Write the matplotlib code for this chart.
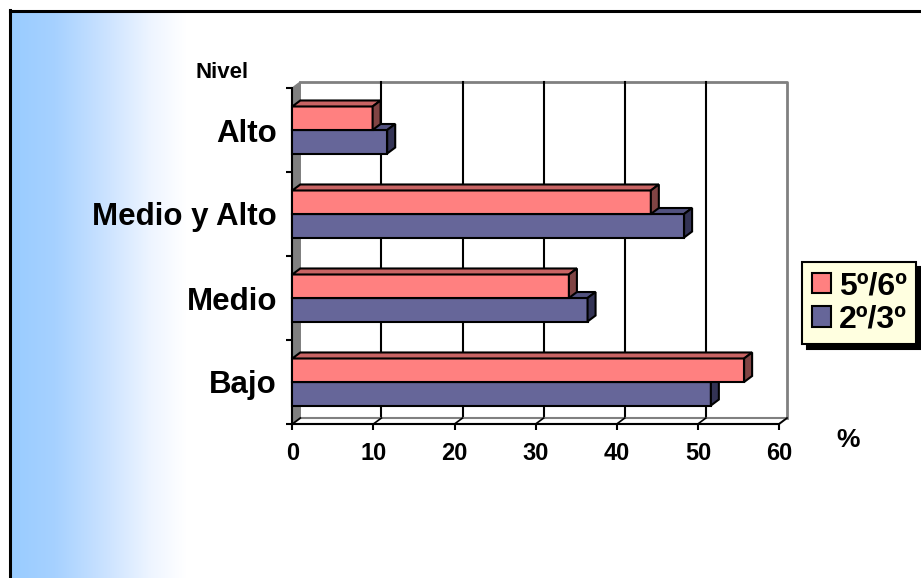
import numpy as np
import matplotlib
matplotlib.use("Agg")
from matplotlib import pyplot as plt
from matplotlib.patches import Polygon, Patch, Rectangle
from matplotlib.colors import LinearSegmentedColormap

# Data
niveles = ["Bajo", "Medio", "Medio y Alto", "Alto"]
grupos = ["5º/6º", "2º/3º"]
pct_5_6 = [55.7, 34.1, 44.2, 9.9]
pct_2_3 = [51.6, 36.4, 48.3, 11.7]
x_ticks = [0, 10, 20, 30, 40, 50, 60]

plt.rcParams["font.family"] = ["Liberation Sans", "DejaVu Sans"]
plt.rcParams["font.weight"] = "bold"

W, H = 921, 578
fig = plt.figure(figsize=(W / 100, H / 100), dpi=100)

# Background: light blue fade on the left and a black frame
bg = fig.add_axes([0, 0, 1, 1], zorder=-10)
bg.set_xlim(0, W)
bg.set_ylim(H, 0)
bg.axis("off")
fade = LinearSegmentedColormap.from_list(
    "fade", [(0, "#99CCFF"), (0.25, "#A6D1FF"), (0.55, "#CCE3FF"),
             (0.8, "#EEF5FF"), (1, "#FFFFFF")])
bg.imshow(np.linspace(0, 1, 256)[None, :], cmap=fade, extent=(11, 185, H, 11), aspect="auto")
bg.plot([10, 10], [H, 10], color="black", lw=2.2)
bg.plot([10, W], [11, 11], color="black", lw=2.2)

# Front plane of the 3D chart
ax_l, ax_b, ax_w, ax_h = 292.3, 424, 486.7, 336
ax = fig.add_axes([ax_l / W, 1 - ax_b / H, ax_w / W, ax_h / H])
ax.set_xlim(0, 60)
ax.set_ylim(-0.5, 3.5)
ax.patch.set_visible(False)

# depth offset (8 px right, 6 px up) in data units
DX = 8 * 60 / ax_w
DY = 6 * 4 / ax_h
y0, y1 = -0.5, 3.5
gray = "#808080"

# back wall, gridlines, side wall and floor
ax.add_patch(Rectangle((DX, y0 + DY), 60, 4, fc="white", ec="none", zorder=0.5, clip_on=False))
ax.plot([DX, 60 + DX, 60 + DX], [y1 + DY, y1 + DY, y0 + DY], color=gray, lw=2, zorder=1, clip_on=False)
for v in x_ticks[1:-1]:
    ax.plot([v + DX, v + DX], [y0 + DY, y1 + DY], color="black", lw=1.5, zorder=1, clip_on=False)
ax.add_patch(Polygon([(0, y0), (DX, y0 + DY), (DX, y1 + DY), (0, y1)],
                     fc=gray, ec=gray, lw=1, zorder=1.2, clip_on=False))
ax.add_patch(Polygon([(0, y0), (60, y0), (60 + DX, y0 + DY), (DX, y0 + DY)],
                     fc="white", ec=gray, lw=1.5, zorder=1.2, clip_on=False))
for v in x_ticks:
    ax.plot([v, v + DX], [y0, y0 + DY], color="black", lw=1.2, zorder=1.3, clip_on=False)

# 3D bars: front face from barh, then top and side faces
bh = 0.28
pos = np.arange(len(niveles))
series = [
    (pct_2_3, pos - bh, "#666699", "#52527F", "#333355", 3),
    (pct_5_6, pos, "#FF8080", "#C86464", "#804444", 4),
]
for vals, base, front, top, side, z in series:
    ax.barh(base, vals, height=bh, align="edge", color=front,
            edgecolor="black", linewidth=1.5, zorder=z, clip_on=False)
    for v, b in zip(vals, base):
        ax.add_patch(Polygon([(0, b + bh), (v, b + bh), (v + DX, b + bh + DY), (DX, b + bh + DY)],
                             fc=top, ec="black", lw=1.5, zorder=z, clip_on=False))
        ax.add_patch(Polygon([(v, b), (v + DX, b + DY), (v + DX, b + bh + DY), (v, b + bh)],
                             fc=side, ec="black", lw=1.5, zorder=z, clip_on=False))

# axes lines and ticks
for s in ["top", "right"]:
    ax.spines[s].set_visible(False)
for s in ["left", "bottom"]:
    ax.spines[s].set_linewidth(1.5)
ax.set_xticks(x_ticks)
ax.tick_params(axis="x", direction="out", length=4.3, width=1.5, labelsize=17, pad=9)
ax.set_yticks([-0.5, 0.5, 1.5, 2.5, 3.5])
ax.set_yticks(pos, labels=niveles, minor=True)
ax.tick_params(axis="y", which="major", direction="out", length=4.3, width=1.5, labelleft=False)
ax.tick_params(axis="y", which="minor", length=0, pad=11, labelsize=22.5)

fig.text(222 / W, 1 - 72 / H, "Nivel", ha="center", va="center", fontsize=16, fontweight="bold")
fig.text(848 / W, 1 - 440 / H, "%", ha="center", va="center", fontsize=19, fontweight="bold")

handles = [Patch(fc="#FF8080", ec="black", lw=1.5), Patch(fc="#666699", ec="black", lw=1.5)]
leg = fig.legend(handles, grupos, loc="upper left", bbox_to_anchor=(802 / W, 1 - 262 / H),
                 frameon=True, fancybox=False,
                 shadow={"ox": 3.6, "oy": -3.6, "color": "black", "alpha": 1},
                 edgecolor="black", facecolor="#FFFFE0", framealpha=1,
                 prop={"size": 23, "weight": "bold"}, handlelength=0.6, handleheight=0.6,
                 handletextpad=0.25, labelspacing=0.1, borderpad=0.3, borderaxespad=0)
leg.get_frame().set_linewidth(1.5)

fig.savefig("out.png", dpi=100)
